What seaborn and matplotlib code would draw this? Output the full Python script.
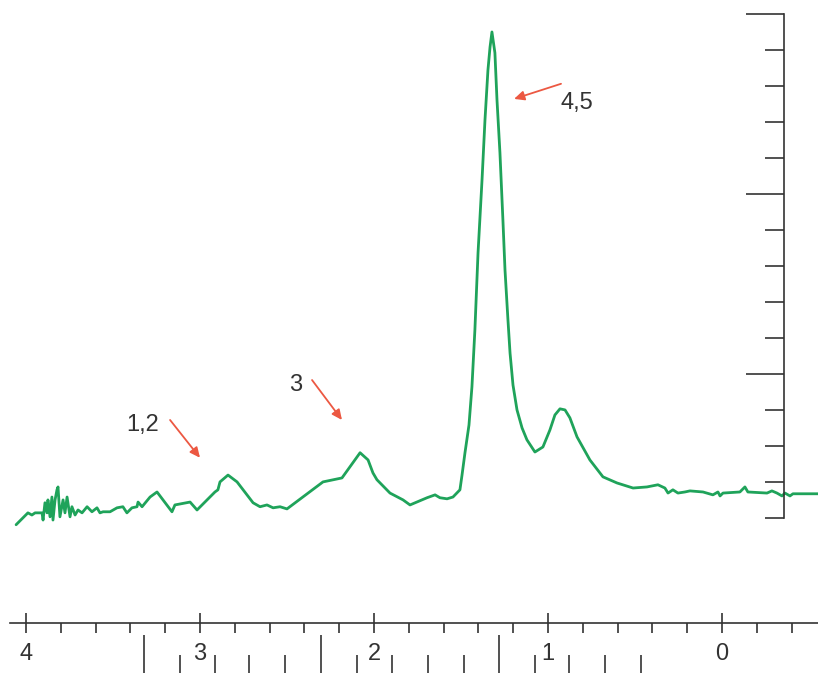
import matplotlib
matplotlib.use("Agg")
import matplotlib.pyplot as plt
import seaborn as sns

# chemical shift (ppm) and signal intensity
ppm = [4.057, 3.989, 3.966, 3.948, 3.908, 3.902, 3.891, 3.879, 3.874, 3.862,
       3.851, 3.845, 3.833, 3.822, 3.816, 3.805, 3.787, 3.776, 3.764, 3.759,
       3.747, 3.736, 3.718, 3.701, 3.678, 3.649, 3.621, 3.592, 3.575, 3.557,
       3.517, 3.477, 3.443, 3.420, 3.391, 3.362, 3.356, 3.333, 3.287, 3.247,
       3.161, 3.144, 3.057, 3.017, 2.914, 2.897, 2.885, 2.839, 2.787, 2.695,
       2.655, 2.615, 2.580, 2.540, 2.500, 2.293, 2.184, 2.080, 2.034, 2.006,
       1.983, 1.908, 1.833, 1.793, 1.764, 1.695, 1.649, 1.621, 1.580, 1.546,
       1.506, 1.494, 1.477, 1.454, 1.437, 1.420, 1.402, 1.379, 1.362, 1.345,
       1.333, 1.322, 1.305, 1.293, 1.276, 1.259, 1.247, 1.230, 1.218, 1.201,
       1.178, 1.149, 1.121, 1.075, 1.029, 0.989, 0.960, 0.931, 0.902, 0.874,
       0.833, 0.759, 0.684, 0.603, 0.511, 0.431, 0.368, 0.328, 0.310, 0.282,
       0.253, 0.213, 0.184, 0.109, 0.052, 0.023, 0.011, -0.006, -0.103, -0.132,
       -0.149, -0.259, -0.287, -0.316, -0.345, -0.362, -0.391, -0.408, -0.552]
intensity = [-0.19, 0.14, 0.08, 0.14, 0.14, -0.06, 0.42, 0.14, 0.50, 0.03,
             0.58, -0.06, 0.50, 0.78, 0.86, 0.03, 0.50, 0.14, 0.58, 0.42,
             0.03, 0.31, 0.08, 0.22, 0.14, 0.31, 0.17, 0.28, 0.14, 0.17,
             0.17, 0.28, 0.31, 0.14, 0.28, 0.31, 0.44, 0.31, 0.58, 0.72,
             0.17, 0.36, 0.44, 0.22, 0.72, 0.78, 1.00, 1.19, 1.00, 0.42,
             0.31, 0.36, 0.28, 0.31, 0.25, 1.00, 1.11, 1.81, 1.61, 1.25,
             1.06, 0.69, 0.50, 0.36, 0.42, 0.56, 0.64, 0.56, 0.53, 0.58,
             0.78, 1.19, 1.81, 2.58, 3.64, 5.22, 7.36, 9.39, 11.06, 12.44,
             13.08, 13.50, 12.92, 11.61, 10.14, 8.28, 6.89, 5.50, 4.58, 3.69,
             3.00, 2.50, 2.17, 1.83, 1.97, 2.44, 2.86, 3.03, 3.00, 2.78,
             2.25, 1.61, 1.14, 0.97, 0.83, 0.86, 0.92, 0.83, 0.69, 0.78,
             0.69, 0.72, 0.75, 0.72, 0.64, 0.72, 0.61, 0.69, 0.72, 0.86,
             0.72, 0.69, 0.75, 0.69, 0.61, 0.69, 0.61, 0.67, 0.67]

ppm_major = [4, 3, 2, 1, 0]
ppm_labels = ["4", "3", "2", "1", "0"]
ppm_minor = [3.8, 3.6, 3.4, 3.2, 2.8, 2.6, 2.4, 2.2, 1.8, 1.6, 1.4, 1.2,
             0.8, 0.6, 0.4, 0.2, -0.2, -0.4]
# second (frequency) scale under the ppm axis
hz_major = [3.322, 2.305, 1.282]
hz_minor = [3.115, 2.914, 2.718, 2.511, 2.098, 1.897, 1.690, 1.483,
            1.075, 0.879, 0.672, 0.466]
# intensity scale on the right
int_major = [4, 9, 14]
int_minor = [0, 1, 2, 3, 5, 6, 7, 8, 10, 11, 12, 13]

peak_labels = ["1,2", "3", "4,5"]
label_pos = [(3.328, 2.58), (2.448, 3.69), (0.833, 11.53)]
arrow_tail = [(3.172, 2.72), (2.356, 3.83), (0.925, 12.06)]
arrow_head = [(3.000, 1.67), (2.184, 2.72), (1.195, 11.64)]

GREEN = "#1fa35a"
RED = "#ec5842"
INK = "#333333"

sns.set_style("white")
plt.rcParams["font.family"] = ["Liberation Sans", "DejaVu Sans"]

fig = plt.figure(figsize=(8.18, 6.73), dpi=100)
ax = fig.add_axes([10 / 818, 50 / 673, 808 / 818, 613 / 673])

sns.lineplot(x=ppm, y=intensity, sort=False, estimator=None, color=GREEN,
             linewidth=2.0, ax=ax)

ax.set_xlim(4.092, -0.552)
ax.set_ylim(-2.92, 14.11)

for side in ["top", "left"]:
    ax.spines[side].set_visible(False)
for side in ["bottom", "right"]:
    ax.spines[side].set_color(INK)
    ax.spines[side].set_linewidth(1.2)
ax.spines["right"].set_position(("data", -0.356))
ax.spines["right"].set_bounds(0, 14)

ax.set_xticks(ppm_major)
ax.set_xticklabels(ppm_labels)
ax.set_xticks(ppm_minor, minor=True)
ax.tick_params(axis="x", which="major", bottom=True, direction="inout",
               length=14.5, width=1.2, color=INK, labelsize=17,
               labelcolor=INK, pad=7)
ax.tick_params(axis="x", which="minor", bottom=True, direction="out",
               length=7.2, width=1.2, color=INK)

ax.yaxis.tick_right()
ax.set_yticks(int_major)
ax.set_yticks(int_minor, minor=True)
ax.set_yticklabels([])
ax.tick_params(axis="y", which="both", right=True, left=False, direction="in",
               width=1.2, color=INK)
ax.tick_params(axis="y", which="major", length=27.5)
ax.tick_params(axis="y", which="minor", length=14)
ax.set_xlabel("")
ax.set_ylabel("")

for text, pos, tail, head in zip(peak_labels, label_pos, arrow_tail, arrow_head):
    ax.text(pos[0], pos[1], text, ha="center", va="center", fontsize=17,
            color=INK)
    ax.annotate("", xy=head, xytext=tail,
                arrowprops=dict(arrowstyle="-|>,head_length=0.6,head_width=0.28",
                                color=RED, lw=1.3, shrinkA=0, shrinkB=0))

# frequency scale drawn as a bare tick row along the figure bottom
ax_hz = fig.add_axes([10 / 818, 0.0, 808 / 818, 0.001])
ax_hz.set_xlim(ax.get_xlim())
ax_hz.set_yticks([])
for side in ax_hz.spines:
    ax_hz.spines[side].set_visible(False)
ax_hz.set_xticks(hz_major)
ax_hz.set_xticklabels([])
ax_hz.set_xticks(hz_minor, minor=True)
ax_hz.tick_params(axis="x", which="both", bottom=True, direction="in",
                  width=1.2, color=INK)
ax_hz.tick_params(axis="x", which="major", length=27.5)
ax_hz.tick_params(axis="x", which="minor", length=13)
ax_hz.patch.set_alpha(0)

fig.savefig("out.png", dpi=100)
